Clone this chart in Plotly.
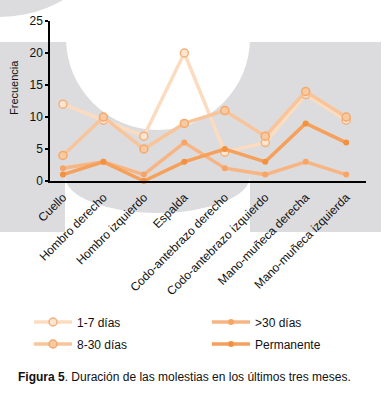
import plotly.graph_objects as go

categories = ["Cuello", "Hombro derecho", "Hombro izquierdo", "Espalda",
              "Codo-antebrazo derecho", "Codo-antebrazo izquierdo",
              "Mano-muñeca derecha", "Mano-muñeca izquierda"]
series_names = ["1-7 días", "8-30 días", ">30 días", "Permanente"]
dias_1_7 = [12, 9.5, 7, 20, 4.5, 6, 13.5, 9.5]
dias_8_30 = [4, 10, 5, 9, 11, 7, 14, 10]
dias_30 = [2, 3, 1, 6, 2, 1, 3, 1]
permanente = [1, 3, 0, 3, 5, 3, 9, 6]
y_ticks = [0, 5, 10, 15, 20, 25]

W, H = 384, 394
L, R, T, B = 50, 18, 21, 213
PW, PH = W - L - R, H - T - B


def px(x):
    return (x - L) / PW


def py(y):
    return (H - B - y) / PH


GRAY = "#dcdcde"

fig = go.Figure()

styles = [
    dict(line=dict(color="#fcdcc0", width=3.5),
         marker=dict(size=8, color="#fde6d2", line=dict(color="#f5b07a", width=1.5))),
    dict(line=dict(color="#f8c59b", width=3.5),
         marker=dict(size=8, color="#f9c9a0", line=dict(color="#f3a96d", width=1.5))),
    dict(line=dict(color="#f8b584", width=3.5),
         marker=dict(size=6, color="#f6a567")),
    dict(line=dict(color="#f5a15c", width=3.5),
         marker=dict(size=6, color="#f3913f")),
]
legend_ids = ["legend", "legend2", "legend3", "legend4"]
legend_pos = [(29, 322), (29, 344), (207, 322), (207, 344)]

for name, vals, st, lid in zip(series_names, [dias_1_7, dias_8_30, dias_30, permanente],
                               styles, legend_ids):
    fig.add_trace(go.Scatter(x=categories, y=vals, name=name, mode="lines+markers",
                             line=st["line"], marker=st["marker"], legend=lid,
                             cliponaxis=False))

shapes = [
    dict(type="rect", x0=px(0), x1=px(381), y0=py(42), y1=py(232), fillcolor=GRAY),
    dict(type="rect", x0=px(65), x1=px(250), y0=py(176), y1=py(233), fillcolor="white"),
    dict(type="circle", x0=px(65), x1=px(250), y0=py(140), y1=py(213), fillcolor=GRAY),
    dict(type="circle", x0=px(66), x1=px(250), y0=py(-54), y1=py(130), fillcolor="white"),
    dict(type="circle", x0=px(-125), x1=px(125), y0=py(-233), y1=py(17), fillcolor=GRAY),
]
for s in shapes:
    s.update(xref="paper", yref="paper", layer="below", line=dict(width=0))

legends = {}
for lid, (lx, ly) in zip(legend_ids, legend_pos):
    legends[lid] = dict(x=px(lx), y=py(ly), xanchor="left", yanchor="middle",
                        bgcolor="rgba(0,0,0,0)", font=dict(size=12), itemwidth=38)

fig.update_layout(
    width=W, height=H,
    margin=dict(l=L, r=R, t=T, b=B, autoexpand=False),
    paper_bgcolor="white",
    plot_bgcolor="rgba(0,0,0,0)",
    font=dict(family="Liberation Sans, Arial, sans-serif", color="#111111", size=11),
    shapes=shapes,
    xaxis=dict(range=[-0.32, 7.49], showgrid=False, zeroline=False, showline=True,
               linecolor="black", linewidth=1.5, tickangle=-45, ticks="",
               tickfont=dict(size=12), ticklabelstandoff=3, automargin=False),
    yaxis=dict(range=[0, 25], tickvals=y_ticks, showgrid=False, zeroline=False,
               showline=True, linecolor="black", linewidth=1.5, ticks="outside",
               ticklen=3, tickwidth=1.5, tickcolor="black", tickfont=dict(size=12),
               automargin=False),
    showlegend=True,
    annotations=[
        dict(text="Frecuencia", textangle=-90, x=px(14), y=py(88), xref="paper", yref="paper",
             showarrow=False, font=dict(size=11), xanchor="center", yanchor="middle"),
        dict(text="<b>Figura 5</b>. Duración de las molestias en los últimos tres meses.",
             x=px(16), y=py(377), xref="paper", yref="paper", showarrow=False,
             font=dict(size=12), xanchor="left", yanchor="middle"),
    ],
    **legends,
)

fig.write_html("out.html", config={"displayModeBar": False},
               post_script="document.body.style.margin='0';")
